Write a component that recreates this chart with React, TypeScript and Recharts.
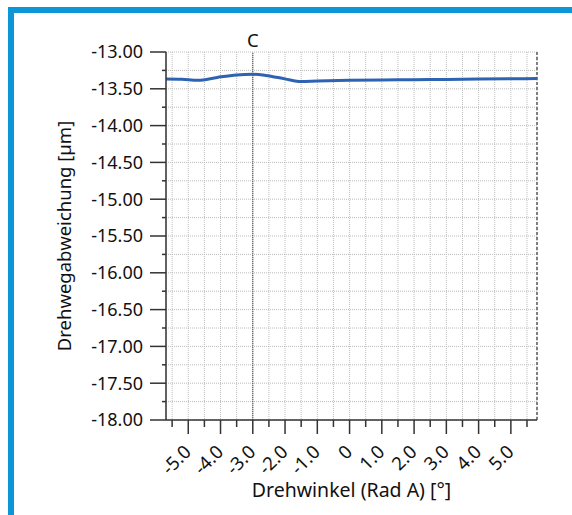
import { CartesianGrid, Line, LineChart, ReferenceLine, XAxis, YAxis } from "recharts";

const angles = [-5.69, -5.2, -4.7, -4.1, -3.5, -3.0, -2.6, -2.0, -1.5, -1.0, 0, 1.0, 2.0, 3.0, 4.0, 5.0, 5.81];
const deviation = [
  -13.367, -13.371, -13.385, -13.345, -13.312, -13.303, -13.318, -13.365, -13.402, -13.395, -13.385,
  -13.38, -13.376, -13.372, -13.368, -13.364, -13.361,
];

const xDomain = [-5.69, 5.81];
const yDomain = [-18, -13];

const xTicks = [-5.5, -5, -4.5, -4, -3.5, -3, -2.5, -2, -1.5, -1, -0.5, 0, 0.5, 1, 1.5, 2, 2.5, 3, 3.5, 4, 4.5, 5, 5.5];
const xMajor = [-5, -4, -3, -2, -1, 0, 1, 2, 3, 4, 5];
const xTickLabels = ["-5.0", "-4.0", "-3.0", "-2.0", "-1.0", "0", "1.0", "2.0", "3.0", "4.0", "5.0"];

const yTicks = [
  -18, -17.75, -17.5, -17.25, -17, -16.75, -16.5, -16.25, -16, -15.75, -15.5, -15.25, -15, -14.75, -14.5,
  -14.25, -14, -13.75, -13.5, -13.25, -13,
];
const yMajor = [-18, -17.5, -17, -16.5, -16, -15.5, -15, -14.5, -14, -13.5, -13];
const yTickLabels = [
  "-18.00", "-17.50", "-17.00", "-16.50", "-16.00", "-15.50", "-15.00", "-14.50", "-14.00", "-13.50", "-13.00",
];

const markerAngle = -3;
const markerLabel = "C";

const data = angles.map((a, i) => ({ angle: a, dev: deviation[i] }));

const FONT = "'Noto Sans', 'Open Sans', sans-serif";
const TEXT = "#111";
const AXIS = "#333";

function XTick(props: any) {
  const { x, y, payload } = props;
  const idx = xMajor.indexOf(payload.value);
  const major = idx >= 0;
  const lx = x + 4;
  const ly = y + 33;
  return (
    <g>
      <line x1={x} x2={x} y1={y} y2={y + (major ? 14 : 7)} stroke={AXIS} strokeWidth={1.5} />
      {major && (
        <text
          x={lx}
          y={ly}
          transform={`rotate(-45 ${lx} ${ly})`}
          textAnchor="end"
          fontSize={18.5}
          fontFamily={FONT}
          fill={TEXT}
        >
          {xTickLabels[idx]}
        </text>
      )}
    </g>
  );
}

function YTick(props: any) {
  const { x, y, payload } = props;
  const idx = yMajor.indexOf(payload.value);
  const major = idx >= 0;
  return (
    <g>
      <line x1={x - (major ? 16 : 4)} x2={x} y1={y} y2={y} stroke={AXIS} strokeWidth={1.5} />
      {major && (
        <text x={x - 23} y={y} dy="0.35em" textAnchor="end" fontSize={18} fontFamily={FONT} fill={TEXT}>
          {yTickLabels[idx]}
        </text>
      )}
    </g>
  );
}

export default function App() {
  return (
    <div style={{ position: "absolute", left: 0, top: 0, width: 572, height: 515, background: "#fff" }}>
      <div
        style={{
          position: "absolute",
          left: 8,
          top: 7,
          width: 564,
          height: 508,
          borderTop: "6px solid #0b97d7",
          borderLeft: "6px solid #0b97d7",
          boxSizing: "border-box",
        }}
      />
      <div style={{ position: "absolute", left: 0, top: 0 }}>
        <LineChart width={572} height={515} data={data} margin={{ top: 52, right: 35, left: 106, bottom: 35 }}>
          <CartesianGrid stroke="#bcbcbc" strokeDasharray="1 1" />
          <XAxis
            dataKey="angle"
            type="number"
            domain={xDomain}
            ticks={xTicks}
            interval={0}
            allowDataOverflow
            height={60}
            tickSize={0}
            tickMargin={0}
            tick={XTick}
            axisLine={{ stroke: AXIS, strokeWidth: 1.5 }}
            label={{
              value: "Drehwinkel (Rad A) [°]",
              position: "bottom",
              offset: 3,
              fontSize: 19.5,
              fontFamily: FONT,
              fill: TEXT,
            }}
          />
          <YAxis
            type="number"
            domain={yDomain}
            ticks={yTicks}
            interval={0}
            allowDataOverflow
            width={60}
            tickSize={0}
            tickMargin={0}
            tick={YTick}
            axisLine={{ stroke: AXIS, strokeWidth: 1.5 }}
            label={{
              value: "Drehwegabweichung [µm]",
              angle: -90,
              position: "left",
              offset: 42,
              fontSize: 18.5,
              fontFamily: FONT,
              fill: TEXT,
              style: { textAnchor: "middle" },
            }}
          />
          <ReferenceLine
            x={markerAngle}
            stroke="#555"
            strokeWidth={1.2}
            strokeDasharray="1 1"
            label={{ value: markerLabel, position: "top", offset: 5, fontSize: 18.5, fontFamily: FONT, fill: TEXT }}
          />
          <ReferenceLine x={xDomain[1]} stroke="#808080" strokeWidth={2} strokeDasharray="3 2" />
          <Line
            dataKey="dev"
            type="monotone"
            stroke="#2e62b3"
            strokeWidth={3}
            dot={false}
            isAnimationActive={false}
          />
        </LineChart>
      </div>
    </div>
  );
}
